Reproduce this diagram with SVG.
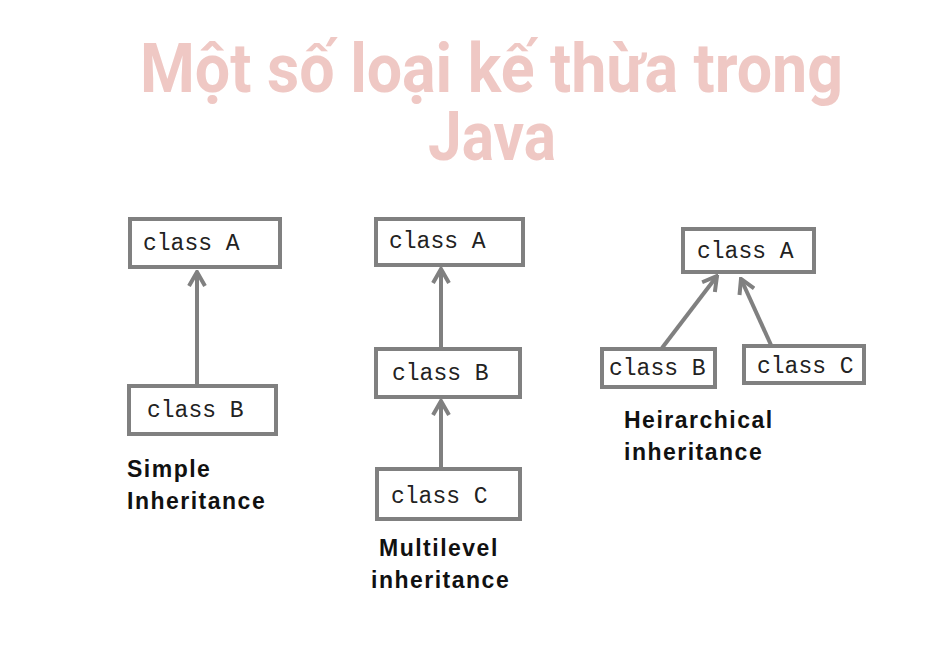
<svg xmlns="http://www.w3.org/2000/svg" width="950" height="650" viewBox="0 0 950 650">
<style>
.box{fill:#fff;stroke:#808080;stroke-width:4}
.cls{font-family:"Liberation Mono","Courier New",monospace;font-size:23px;fill:#222}
.lbl{font-family:"Liberation Sans",Arial,sans-serif;font-weight:bold;font-size:23px;letter-spacing:1.5px;fill:#111}
.title{font-family:Roboto,"Liberation Sans",sans-serif;font-weight:bold;font-size:64px;fill:#efc8c4}
.con{stroke:#808080;stroke-width:4;fill:none}
</style>
<defs>
<marker id="arr" viewBox="0 0 20 20" refX="18" refY="10" markerWidth="20" markerHeight="20" markerUnits="userSpaceOnUse" orient="auto">
<path d="M4 2 L18 10 L4 18" fill="none" stroke="#808080" stroke-width="4"/>
</marker>
</defs>
<rect width="950" height="650" fill="#fff"/>
<g transform="translate(0,92) scale(1,1.08)">
<text class="title" x="140" y="0" textLength="703" lengthAdjust="spacingAndGlyphs">Một số loại kế thừa trong</text>
</g>
<g transform="translate(0,160) scale(1,1.08)">
<text class="title" x="428" y="0" textLength="128" lengthAdjust="spacingAndGlyphs">Java</text>
</g>
<g id="connectors">
<line class="con" x1="197" y1="385" x2="197" y2="272" marker-end="url(#arr)"/>
<line class="con" x1="441" y1="348" x2="441" y2="269" marker-end="url(#arr)"/>
<line class="con" x1="441" y1="467" x2="441" y2="401" marker-end="url(#arr)"/>
<line class="con" x1="662" y1="348" x2="717" y2="276" marker-end="url(#arr)"/>
<line class="con" x1="771" y1="345" x2="741" y2="279" marker-end="url(#arr)"/>
</g>
<g id="s_a"><rect class="box" x="130" y="219" width="150" height="48"/><text class="cls" x="143" y="250">class A</text></g>
<g id="s_b"><rect class="box" x="129" y="386" width="147" height="48"/><text class="cls" x="147" y="417">class B</text></g>
<text class="lbl" x="127" y="477">Simple</text>
<text class="lbl" x="127" y="509">Inheritance</text>
<g id="m_a"><rect class="box" x="376" y="219" width="147" height="46"/><text class="cls" x="389" y="248">class A</text></g>
<g id="m_b"><rect class="box" x="376" y="349" width="144" height="48"/><text class="cls" x="392" y="380">class B</text></g>
<g id="m_c"><rect class="box" x="377" y="469" width="143" height="50"/><text class="cls" x="391" y="503">class C</text></g>
<text class="lbl" x="379" y="556">Multilevel</text>
<text class="lbl" x="371" y="588">inheritance</text>
<g id="h_a"><rect class="box" x="683" y="229" width="131" height="43"/><text class="cls" x="697" y="258">class A</text></g>
<g id="h_b"><rect class="box" x="602" y="349" width="113" height="38"/><text class="cls" x="609" y="375">class B</text></g>
<g id="h_c"><rect class="box" x="744" y="346" width="120" height="37"/><text class="cls" x="757" y="373">class C</text></g>
<text class="lbl" x="624" y="428">Heirarchical</text>
<text class="lbl" x="624" y="460">inheritance</text>
</svg>
